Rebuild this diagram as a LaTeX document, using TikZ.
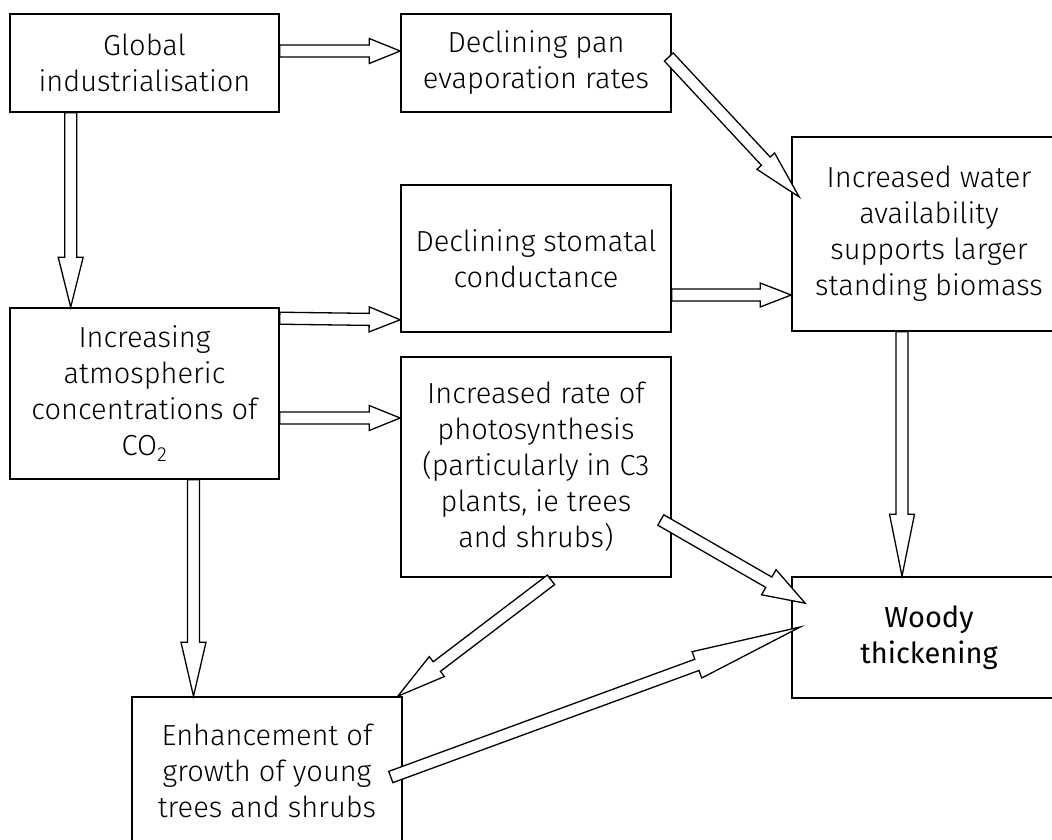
\documentclass[tikz,border=0pt]{standalone}
\usepackage{fontspec}
\setmainfont{Fira Sans Light}[BoldFont={Fira Sans}]
\usetikzlibrary{calc}

\tikzset{
	box/.style={draw, line width=1.6pt, align=center, inner sep=0pt, font=\fontsize{29}{36}\selectfont},
	arrowline/.style={draw, fill=white, line width=1.3pt, line join=miter}
}

\newcommand{\fatarrow}[4]{%
	\path #1 coordinate (fa-a) #2 coordinate (fa-b);
	\coordinate (fa-h) at ($(fa-b)!#3!(fa-a)$);
	\draw[arrowline] ($(fa-a)!6pt!90:(fa-b)$) -- ($(fa-h)!6pt!90:(fa-b)$) -- ($(fa-h)!#4!90:(fa-b)$) -- (fa-b)
		-- ($(fa-h)!#4!-90:(fa-b)$) -- ($(fa-h)!6pt!-90:(fa-b)$) -- ($(fa-a)!6pt!-90:(fa-b)$) -- cycle;
}

\begin{document}
\begin{tikzpicture}[x=1pt, y=-1pt]
		\useasboundingbox (0,0) rectangle (1052,839);
		\clip (0,0) rectangle (1052,839);
		\node[box, minimum width=269pt, minimum height=98pt] (glob) at (144.5,63) {Global\\industrialisation};
		\node[box, minimum width=270pt, minimum height=98pt] (pan) at (536,63) {Declining pan\\evaporation rates};
		\node[box, minimum width=274pt, minimum height=194pt] (water) at (929,234) {Increased water\\availability\\supports larger\\standing biomass};
		\node[box, minimum width=270pt, minimum height=147pt] (stom) at (536,258.5) {Declining stomatal\\conductance};
		\node[box, minimum width=269pt, minimum height=171pt] (co2) at (144.5,393.5) {Increasing\\atmospheric\\concentrations of\\CO\textsubscript{2}};
		\node[box, minimum width=270pt, minimum height=220pt] (photo) at (536,467) {Increased rate of\\photosynthesis\\(particularly in C3\\plants, ie trees\\and shrubs)};
		\node[box, minimum width=274pt, minimum height=121pt] (woody) at (929,637.5) {\textbf{Woody}\\\textbf{thickening}};
		\node[box, minimum width=270pt, minimum height=148pt] (enh) at (267,771) {Enhancement of\\growth of young\\trees and shrubs};
		\fatarrow{($(glob.east)+(0,-12)$)}{($(pan.west)+(0,-12)$)}{31pt}{12.5pt}
		\fatarrow{($(glob.south west)+(61.5,0)$)}{($(co2.north west)+(61.5,0)$)}{50pt}{12.5pt}
		\fatarrow{($(pan.east)+(-3,-6)$)}{($(water.west)+(8,-37)$)}{49pt}{12pt}
		\fatarrow{($(co2.north east)+(0,11)$)}{($(stom.south west)+(0,-13)$)}{31pt}{12.5pt}
		\fatarrow{($(co2.east)+(0,24.5)$)}{($(photo.west)+(0,-49)$)}{31pt}{12.5pt}
		\fatarrow{($(stom.east)+(0,36.5)$)}{($(water.west)+(0,61)$)}{31pt}{12pt}
		\fatarrow{($(water.south)+(-27,0)$)}{($(woody.north)+(-27,0)$)}{62pt}{12.5pt}
		\fatarrow{($(photo.east)+(-11,53)$)}{($(woody.north west)+(14,27)$)}{42pt}{14.5pt}
		\fatarrow{($(photo.south)+(15,2)$)}{($(enh.north east)+(-5,0)$)}{49pt}{12.5pt}
		\fatarrow{($(co2.south)+(49,0)$)}{($(enh.north)+(-73.5,0)$)}{54pt}{12.5pt}
		\fatarrow{($(enh.east)+(-12,6)$)}{($(woody.west)+(9,-10.5)$)}{110pt}{14pt}
\end{tikzpicture}
\end{document}
